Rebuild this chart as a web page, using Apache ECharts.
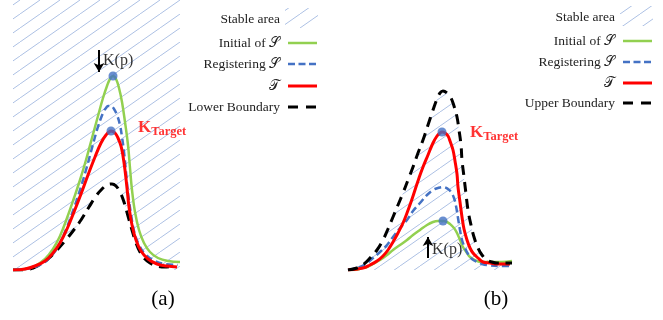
<!DOCTYPE html>
<html>
<head>
<meta charset="utf-8">
<script src="https://cdn.jsdelivr.net/npm/echarts@6/dist/echarts.min.js"></script>
<style>
html,body{margin:0;padding:0;background:#fff;}
#chart{width:663px;height:320px;}
</style>
</head>
<body>
<div id="chart"></div>
<script>
// ---------- Panel (a): lower boundary case ----------
const hatchTopA = [[0,270],[167,270]];
const lowerBoundaryA = [[0,0],[12,0],[20,2],[28,6],[36,12],[44,20],[52,29],[60,39],[68,50],[76,63],[83,74],[89,81],[94,85],[99,86],[103,84],[107,78],[111,68],[115,54],[119,40],[123,27],[127,18],[132,11],[137,7],[144,4],[152,3],[160,4]];
const initialSA = [[0,0],[12,1],[22,4],[32,11],[40,21],[47,34],[54,52],[61,72],[67,90],[73,110],[79,132],[85,154],[90,172],[94,184],[97,191],[100,194],[103,191],[106,182],[109,168],[112,148],[115,125],[117,102],[119,80],[122,58],[126,40],[131,27],[137,18],[145,12],[155,9],[167,8]];
const registeringSA = [[0,0],[12,1],[22,3],[32,8],[40,16],[47,27],[54,43],[61,62],[67,80],[73,100],[79,122],[84,140],[88,152],[91,159],[93,162],[95,164],[98,164],[101,161],[104,155],[107,145],[109,133],[111,118],[113,98],[115,77],[118,56],[121,39],[126,25],[133,15],[142,9],[152,6],[165,5]];
const targetTA = [[0,0],[12,1],[22,4],[32,9],[40,17],[47,27],[54,41],[61,58],[68,76],[75,95],[82,113],[88,127],[93,135],[98,139],[102,137],[105,132],[108,124],[110,114],[112,100],[114,82],[116,63],[119,45],[123,30],[128,19],[135,11],[144,6],[154,4],[164,3]];
const peakDotsA = [[100,194],[98,139]];
const kpArrowA = [[86,220],[86,198]];
const kpLabelA = [90,209];
const kTargetLabelA = [125,142];

// ---------- Panel (b): upper boundary case ----------
const upperBoundaryB = [[0,0],[9,2],[16,6],[22,12],[29,20],[35,30],[40,41],[45,53],[50,65],[55,77],[60,90],[65,103],[70,117],[75,130],[80,145],[85,160],[89,171],[92,177],[95,179],[99,177],[103,172],[106,164],[109,153],[111,140],[113,125],[114,110],[116,93],[118,76],[120,60],[123,45],[126,33],[130,22],[134,15],[139,10],[144,8],[149,7],[159,7],[164,7]];
const initialSB = [[0,0],[7,0],[14,2],[19,3],[25,6],[32,10],[39,15],[45,20],[52,25],[59,30],[65,35],[72,40],[79,45],[85,48],[90,49],[95,49],[99,48],[102,46],[106,42],[109,37],[112,30],[115,23],[119,17],[122,13],[127,10],[132,8],[139,8],[145,8],[154,8],[164,9]];
const registeringSB = [[0,0],[5,1],[12,3],[19,7],[25,12],[32,18],[39,25],[45,33],[52,42],[59,50],[65,59],[72,67],[79,75],[85,80],[90,82],[95,83],[100,81],[103,78],[106,72],[108,64],[110,52],[112,40],[114,30],[117,22],[120,16],[124,11],[129,8],[134,6],[139,5],[152,4],[164,4]];
const targetTB = [[0,0],[15,2],[22,5],[29,9],[35,14],[40,20],[45,28],[50,37],[55,47],[59,57],[63,68],[67,80],[71,92],[75,103],[80,115],[85,127],[89,134],[92,137],[94,138],[97,137],[100,134],[102,129],[105,120],[107,109],[109,96],[110,83],[112,68],[114,53],[116,41],[119,30],[122,22],[125,17],[130,12],[135,8],[142,7],[149,6],[162,6]];
const peakDotsB = [[94,138],[95,49]];
const kpArrowB = [[80,12],[80,33]];
const kpLabelB = [84,20];
const kTargetLabelB = [122,137];

// ---------- texts ----------
const legendLabelsA = ['Stable area','Initial of \u{1D4AE}','Registering \u{1D4AE}','\u{1D4AF}','Lower Boundary'];
const legendLabelsB = ['Stable area','Initial of \u{1D4AE}','Registering \u{1D4AE}','\u{1D4AF}','Upper Boundary'];
const captions = ['(a)','(b)'];

// ---------- styles ----------
const SERIF = '"Liberation Serif","DejaVu Serif","Noto Sans",serif';
const GREEN = '#92d050', BLUE = '#4472c4', RED = '#ff0000', BLACK = '#000000', HATCH = '#adc1e4';

function makeHatch(){
  const W = 20, H = 14;
  const c = document.createElement('canvas');
  c.width = W; c.height = H;
  const g = c.getContext('2d');
  g.strokeStyle = HATCH; g.lineWidth = 1;
  for (let k = -1; k <= 1; k++) {
    g.beginPath(); g.moveTo(k*W, H); g.lineTo(k*W + W, 0); g.stroke();
  }
  return c;
}
const hatchCanvas = makeHatch();
const hatchPattern = () => ({image: hatchCanvas, repeat: 'repeat'});

function curve(name, data, color, width, dash, xi, z){
  return {
    name, type:'line', data, xAxisIndex:xi, yAxisIndex:xi,
    smooth:0.4, symbol:'none', silent:true, z:z||3,
    lineStyle:{color, width, type: dash || 'solid'}
  };
}
function dots(data, xi){
  return {type:'scatter', data, xAxisIndex:xi, yAxisIndex:xi, symbolSize:9, z:10, silent:true,
    itemStyle:{color:BLUE}};
}
function annot(kpPos, kTPos, arrow, xi){
  return {
    type:'scatter', xAxisIndex:xi, yAxisIndex:xi, symbolSize:0, z:11, silent:true,
    data:[
      {value:kpPos, label:{show:true, position:'right', distance:0, formatter:'K(p)',
        fontFamily:SERIF, fontSize:16, color:'#000'}},
      {value:kTPos, label:{show:true, position:'right', distance:0, formatter:'{k|K}{s|Target}',
        rich:{
          k:{fontFamily:SERIF, fontSize:17, fontWeight:'bold', color:RED},
          s:{fontFamily:SERIF, fontSize:12.5, fontWeight:'bold', color:RED, padding:[8,0,0,0]}
        }}}
    ],
    markLine:{
      silent:true, symbol:['none','arrow'], symbolSize:[8,9],
      label:{show:false},
      lineStyle:{color:'#000', width:2, type:'solid'},
      data:[[{coord:arrow[0]},{coord:arrow[1]}]]
    }
  };
}

function legend(labels, textRight, lineX1, lineX2, rows, swatch){
  const els = [];
  const styles = [null,
    {stroke:GREEN, lineWidth:2.5, lineDash:null},
    {stroke:BLUE, lineWidth:2.5, lineDash:[7,3.5]},
    {stroke:RED, lineWidth:3, lineDash:null},
    {stroke:BLACK, lineWidth:3, lineDash:[10,8]}];
  labels.forEach((t,i)=>{
    els.push({type:'text', x:textRight, y:rows[i], silent:true,
      style:{text:t, textAlign:'right', textVerticalAlign:'middle', font:'13.5px '+SERIF, fill:'#222'}});
    if (i === 0) {
      els.push({type:'rect', silent:true, shape:{x:swatch[0], y:swatch[1], width:swatch[2], height:swatch[3]},
        style:{fill:hatchPattern(), stroke:null}});
    } else {
      const s = styles[i];
      els.push({type:'line', silent:true, shape:{x1:lineX1, y1:rows[i], x2:lineX2, y2:rows[i]},
        style:{stroke:s.stroke, lineWidth:s.lineWidth, lineDash:s.lineDash}});
    }
  });
  return els;
}

const chart = echarts.init(document.getElementById('chart'), null, {renderer:'canvas'});
const axisHidden = {show:false};
const option = {
  animation:false,
  backgroundColor:'#ffffff',
  grid:[
    {left:13, top:0, width:167, height:270},
    {left:348, top:0, width:164, height:270}
  ],
  xAxis:[
    {type:'value', gridIndex:0, min:0, max:167, ...axisHidden},
    {type:'value', gridIndex:1, min:0, max:164, ...axisHidden}
  ],
  yAxis:[
    {type:'value', gridIndex:0, min:0, max:270, ...axisHidden},
    {type:'value', gridIndex:1, min:0, max:270, ...axisHidden}
  ],
  series:[
    // panel (a)
    {type:'line', data:hatchTopA, xAxisIndex:0, yAxisIndex:0, symbol:'none', silent:true, z:1,
      lineStyle:{width:0}, areaStyle:{color:hatchPattern(), opacity:1}},
    {...curve('Lower Boundary', lowerBoundaryA, BLACK, 3, [10,7], 0, 2),
      areaStyle:{color:'#ffffff', opacity:1}},
    curve('Initial of S', initialSA, GREEN, 2.5, null, 0, 3),
    curve('Registering S', registeringSA, BLUE, 2.5, [7,4], 0, 4),
    curve('T', targetTA, RED, 3, null, 0, 5),
    dots(peakDotsA, 0),
    annot(kpLabelA, kTargetLabelA, kpArrowA, 0),
    // panel (b)
    {type:'line', data:upperBoundaryB, xAxisIndex:1, yAxisIndex:1, symbol:'none', silent:true, z:1,
      smooth:0.4,
      lineStyle:{width:0}, areaStyle:{color:hatchPattern(), opacity:1}},
    curve('Initial of S', initialSB, GREEN, 2.5, null, 1, 3),
    curve('Registering S', registeringSB, BLUE, 2.5, [7,4], 1, 4),
    curve('T', targetTB, RED, 3, null, 1, 5),
    curve('Upper Boundary', upperBoundaryB, BLACK, 3, [10,7], 1, 6),
    dots(peakDotsB, 1),
    annot(kpLabelB, kTargetLabelB, kpArrowB, 1)
  ],
  graphic:[
    ...legend(legendLabelsA, 280, 288, 317, [19,43,64,86,107], [285,8,33,20]),
    ...legend(legendLabelsB, 615, 623, 652, [17,41,62,83,103], [620,6,33,20]),
    {type:'text', x:163, y:299, silent:true,
      style:{text:captions[0], textAlign:'center', textVerticalAlign:'middle', font:'21px '+SERIF, fill:'#000'}},
    {type:'text', x:496, y:299, silent:true,
      style:{text:captions[1], textAlign:'center', textVerticalAlign:'middle', font:'21px '+SERIF, fill:'#000'}}
  ]
};
chart.setOption(option);
</script>
</body>
</html>
